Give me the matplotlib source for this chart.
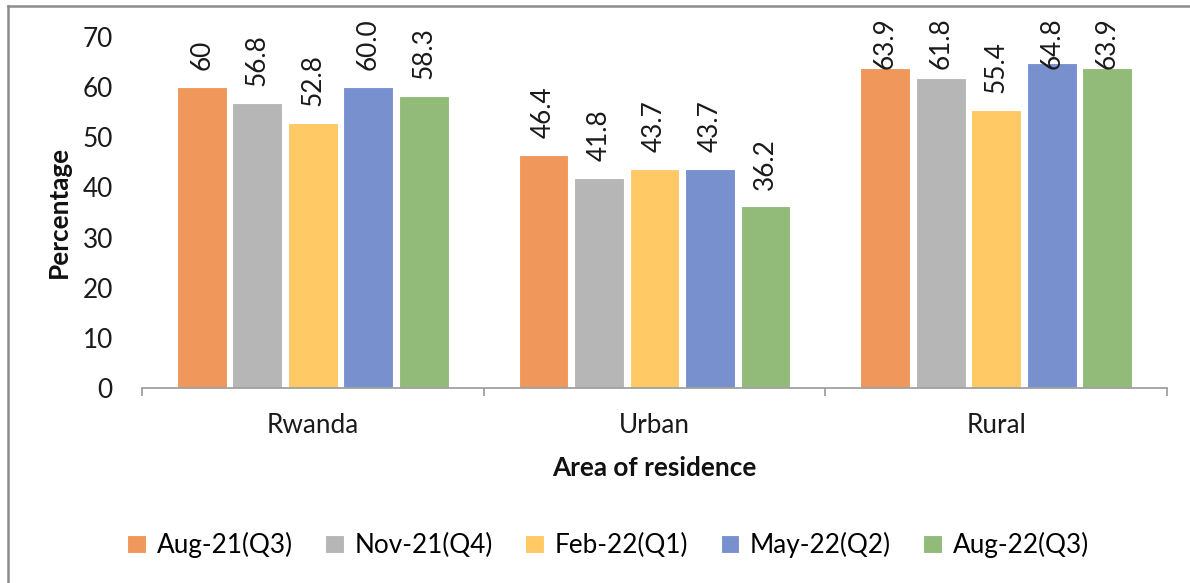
import matplotlib
matplotlib.use("Agg")
import matplotlib.pyplot as plt
from matplotlib.lines import Line2D
import numpy as np

areas = ["Rwanda", "Urban", "Rural"]
series_names = ["Aug-21(Q3)", "Nov-21(Q4)", "Feb-22(Q1)", "May-22(Q2)", "Aug-22(Q3)"]
aug21 = [60, 46.4, 63.9]
nov21 = [56.8, 41.8, 61.8]
feb22 = [52.8, 43.7, 55.4]
may22 = [60.0, 43.7, 64.8]
aug22 = [58.3, 36.2, 63.9]
label_texts = [
    ["60", "46.4", "63.9"],
    ["56.8", "41.8", "61.8"],
    ["52.8", "43.7", "55.4"],
    ["60.0", "43.7", "64.8"],
    ["58.3", "36.2", "63.9"],
]
colors = ["#F0985B", "#B6B6B6", "#FFC966", "#7891CE", "#92BB7A"]

plt.rcParams["font.family"] = ["Lato", "DejaVu Sans"]
FS = 18.8

W, H, DPI = 1190, 583, 100
fig = plt.figure(figsize=(W / DPI, H / DPI), dpi=DPI)
fig.patch.set_facecolor("white")

x0, x1 = 142, 1167
y_top, y_bot = 37, 388
ax = fig.add_axes([x0 / W, 1 - y_bot / H, (x1 - x0) / W, (y_bot - y_top) / H])

values = [aug21, nov21, feb22, may22, aug22]
x = np.arange(len(areas))
slot = 0.1625
bw = 0.146
texts = []
for i, (vals, col) in enumerate(zip(values, colors)):
    pos = x + (i - 2) * slot
    ax.bar(pos, vals, width=bw, color=col, edgecolor="white", linewidth=0.8,
           label=series_names[i], zorder=2)
    for px, v, s in zip(pos, vals, label_texts[i]):
        t = ax.annotate(s, xy=(px, v), xytext=(0, 12.2), textcoords="offset points",
                        rotation=90, ha="center", va="bottom", fontsize=FS,
                        color="#1a1a1a", annotation_clip=False)
        texts.append(t)

ax.set_xlim(-0.5, 2.5)
ax.set_ylim(0, 70)
ax.set_yticks(range(0, 71, 10))
ax.set_xticks(x)
ax.set_xticklabels(areas)
ax.set_xticks([-0.5, 0.5, 1.5, 2.5], minor=True)
ax.tick_params(axis="x", which="major", length=0, pad=18, labelsize=FS, colors="#1a1a1a")
ax.tick_params(axis="x", which="minor", length=5.5, width=1.3, color="#A0A0A0", direction="out")
ax.tick_params(axis="y", length=0, pad=21, labelsize=FS, colors="#1a1a1a")
for side in ["left", "right", "top"]:
    ax.spines[side].set_visible(False)
ax.spines["bottom"].set_color("#A0A0A0")
ax.spines["bottom"].set_linewidth(1.3)

fig.text(59 / W, 1 - 212 / H, "Percentage", rotation=90, ha="center", va="center",
         fontsize=FS, fontweight="bold", color="#111111")
fig.text(654 / W, 1 - 468 / H, "Area of residence", ha="center", va="center",
         fontsize=FS, fontweight="bold", color="#111111")

leg = fig.legend(loc="center", bbox_to_anchor=(608 / W, 1 - 545 / H), ncol=5,
                 frameon=False, fontsize=FS, handlelength=0.72, handleheight=0.72,
                 handletextpad=0.4, columnspacing=1.25)

# Outer frame (left and top edges)
fig.add_artist(Line2D([8 / W, 8 / W], [0, 1 - 6 / H], transform=fig.transFigure,
                      color="#8C8C8C", linewidth=1.8))
fig.add_artist(Line2D([8 / W, 1], [1 - 6 / H, 1 - 6 / H], transform=fig.transFigure,
                      color="#8C8C8C", linewidth=1.8))

# Keep value labels inside the chart area
fig.canvas.draw()
limit = H - 17
for t in texts:
    bb = t.get_window_extent()
    if bb.y1 > limit:
        dx, dy = t.xyann
        t.xyann = (dx, dy - (bb.y1 - limit) * 72 / DPI)

fig.savefig("out.png", dpi=DPI)
